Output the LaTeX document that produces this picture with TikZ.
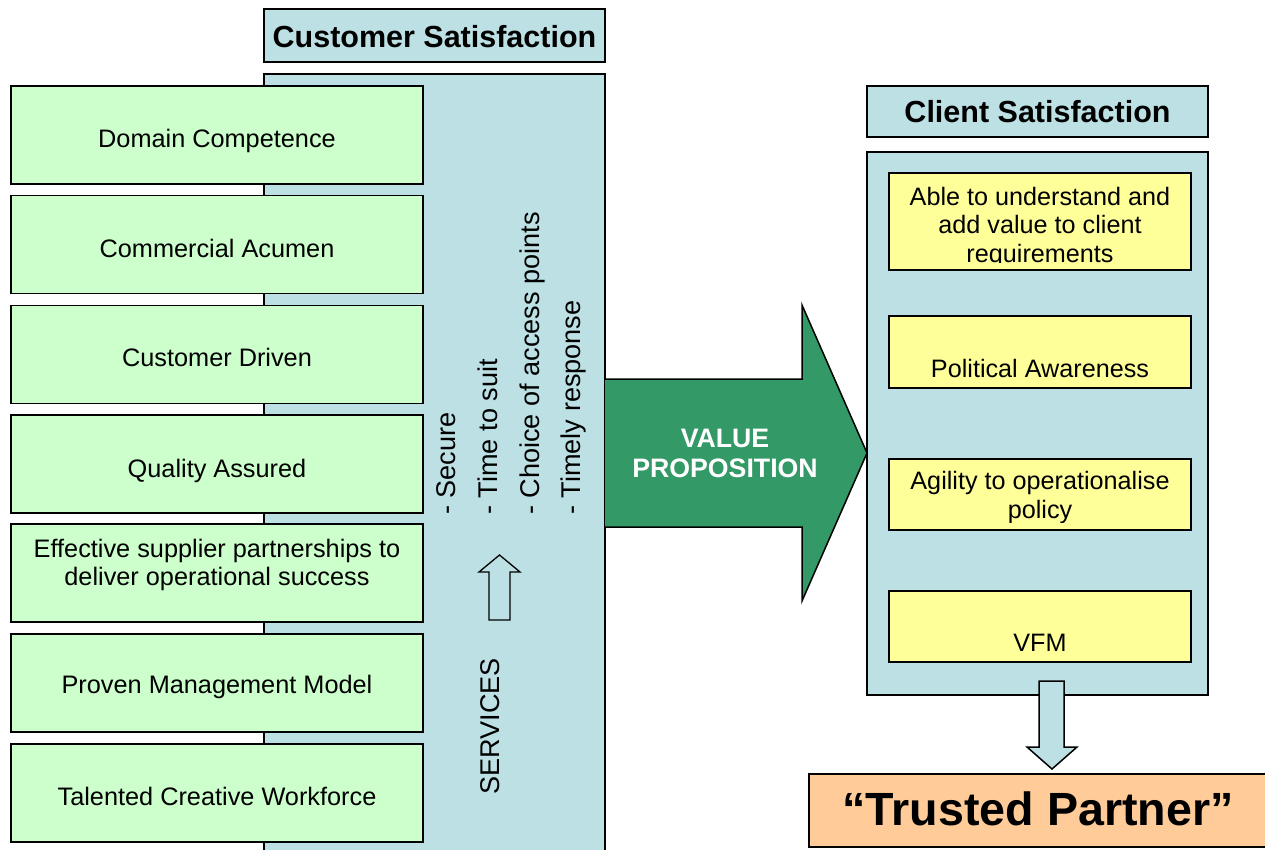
\documentclass[tikz,border=0pt]{standalone}
\usepackage{fontspec}
\setmainfont{Liberation Sans}
\definecolor{panelblue}{RGB}{188,224,227}
\definecolor{mintgreen}{RGB}{204,255,204}
\definecolor{paleyellow}{RGB}{255,255,153}
\definecolor{propgreen}{RGB}{51,153,102}
\definecolor{peach}{RGB}{255,204,153}
\begin{document}
\begin{tikzpicture}[x=1pt,y=-1pt,
  box/.style={draw=black, line width=1.5pt, rectangle, inner sep=0pt, outer sep=0pt},
  panelbox/.style={box, fill=panelblue},
  titlebox/.style={panelbox, minimum width=341pt},
  greenbox/.style={box, fill=mintgreen, minimum width=412pt, minimum height=98pt},
  yellowbox/.style={box, fill=paleyellow, minimum width=302pt},
  lbl/.style={anchor=base, inner sep=0pt, align=center, font=\fontsize{25.3}{28}\selectfont},
  ylbl/.style={anchor=base, inner sep=0pt, align=center, font=\fontsize{25.2}{28.5}\selectfont},
  titlelbl/.style={anchor=base, inner sep=0pt, font=\fontsize{30.5}{34}\selectfont\bfseries},
  vlbl/.style={anchor=base west, rotate=90, inner sep=0pt, font=\fontsize{27.1}{30}\selectfont},
  blockarrow/.style={draw=black, line width=1.5pt, line join=miter}
]
\useasboundingbox (0,0) rectangle (1265,849);
\clip (0,0) rectangle (1265,849);

% ---- customer side ----
\node[titlebox, minimum height=53pt] (ctitle) at (434.5,35.5) {};
\node[titlelbl] (ctitletext) at (434.5,47) {Customer Satisfaction};
\node[panelbox, minimum width=341pt, minimum height=796pt] (cpanel) at (434.5,472) {};

\node[greenbox] (g1) at (217,135) {};
\node[greenbox] (g2) at (217,244.5) {};
\node[greenbox] (g3) at (217,354.5) {};
\node[greenbox] (g4) at (217,464) {};
\node[greenbox] (g5) at (217,573) {};
\node[greenbox] (g6) at (217,683) {};
\node[greenbox] (g7) at (217,793) {};

% multi-line labels are placed by the baseline of their last line
\node[lbl] (g1t) at (217,147) {Domain Competence};
\node[lbl] (g2t) at (217,257) {Commercial Acumen};
\node[lbl] (g3t) at (217,366) {Customer Driven};
\node[lbl] (g4t) at (217,477) {Quality Assured};
\node[lbl] (g5t) at (217,585) {Effective supplier partnerships to\\deliver operational success};
\node[lbl] (g6t) at (217,693) {Proven Management Model};
\node[lbl] (g7t) at (217,805) {Talented Creative Workforce};

% service qualities, written bottom to top
\node[vlbl] (s1) at (455,515) {- Secure};
\node[vlbl] (s2) at (497,515) {- Time to suit};
\node[vlbl] (s3) at (539,515) {- Choice of access points};
\node[vlbl] (s4) at (580,515) {- Timely response};

% hollow up arrow and services label
\draw[line width=1.3pt, line join=miter] (499.5,555) -- (520,572) -- (510,572) -- (510,620)
  -- (489,620) -- (489,572) -- (479,572) -- cycle;
\node[vlbl] (services) at (499,795) {SERVICES};

% ---- client side ----
\node[titlebox, minimum height=51pt] (cltitle) at (1037.5,111.5) {};
\node[titlelbl] (cltitletext) at (1037.5,122) {Client Satisfaction};
\node[panelbox, minimum width=341pt, minimum height=543pt] (clpanel) at (1037.5,423.5) {};

\node[yellowbox, minimum height=97pt] (y1) at (1040,221.5) {};
\node[yellowbox, minimum height=72pt] (y2) at (1040,352) {};
\node[yellowbox, minimum height=71pt] (y3) at (1040,494.5) {};
\node[yellowbox, minimum height=71pt] (y4) at (1040,626.5) {};

\begin{scope}
  \clip (889,173) rectangle (1191,262);
  \node[ylbl] (y1t) at (1040,262) {Able to understand and\\add value to client\\requirements};
\end{scope}
\node[ylbl] (y2t) at (1040,377) {Political Awareness};
\begin{scope}
  \clip (889,459) rectangle (1191,522);
  \node[ylbl] (y3t) at (1040,518) {Agility to operationalise\\policy};
\end{scope}
\node[ylbl] (y4t) at (1040,651) {VFM};

% ---- value proposition arrow ----
\draw[blockarrow, fill=propgreen] (605,379) -- (802,379) -- (802,305) -- (867,453)
  -- (802,601) -- (802,527) -- (605,527);
\fill[propgreen] (606,380.5) rectangle (620,525.5);
\node[anchor=base, inner sep=0pt, align=center, text=white,
  font=\fontsize{26.7}{30}\selectfont\bfseries] (vp) at (725,477) {VALUE\\PROPOSITION};

% ---- down arrow to outcome ----
\draw[blockarrow, fill=panelblue] (1039,681) -- (1064,681) -- (1064,747) -- (1077,747)
  -- (1052,769) -- (1027,747) -- (1039,747) -- cycle;

\node[box, fill=peach, minimum width=476pt, minimum height=73pt] (trusted) at (1047,810.5) {};
\node[anchor=base, inner sep=0pt, font=\fontsize{46.6}{52}\selectfont\bfseries] (trustedtext)
  at (1038,825) {“Trusted Partner”};
\end{tikzpicture}
\end{document}
